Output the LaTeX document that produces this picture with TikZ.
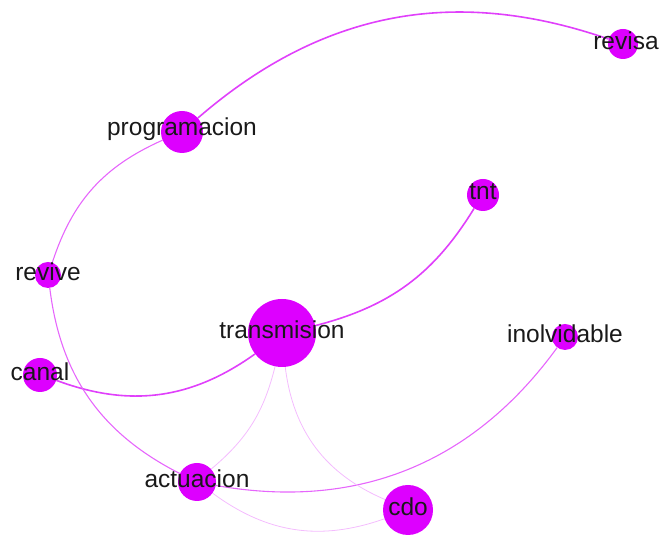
\documentclass[tikz,border=0pt]{standalone}
\usepackage{fontspec}
\setmainfont{Liberation Sans}
\usetikzlibrary{backgrounds}
\definecolor{termcol}{RGB}{221,0,255}
\definecolor{edgecol}{RGB}{224,64,251}

\begin{document}
\begin{tikzpicture}[x=1pt, y=1pt,
        every label/.style={font=\fontsize{24.5}{28}\selectfont, text=black!90, inner sep=0pt, yshift=3pt}]
      \tikzstyle{term} = [circle, fill=termcol, inner sep=0pt]
      \tikzstyle{heavy} = [draw=edgecol, line width=1.6pt]
      \tikzstyle{medium} = [draw=edgecol!80, line width=1.1pt]
      \tikzstyle{faint} = [draw=edgecol!35, line width=0.8pt]
      \useasboundingbox (0,0) rectangle (662,537);
      \node (revisa) [term, minimum size=30pt, label={[xshift=3pt]center:revisa}] at (623,493) {};
      \node (programacion) [term, minimum size=42pt, label=center:programacion] at (182,405) {};
      \node (tnt) [term, minimum size=32pt, label=center:tnt] at (483,342) {};
      \node (revive) [term, minimum size=26pt, label=center:revive] at (48,262) {};
      \node (transmision) [term, minimum size=68pt, label=center:transmision] at (282,204) {};
      \node (inolvidable) [term, minimum size=26pt, label=center:inolvidable] at (565,200) {};
      \node (canal) [term, minimum size=34pt, label=center:canal] at (40,162) {};
      \node (actuacion) [term, minimum size=38pt, label=center:actuacion] at (197,55) {};
      \node (cdo) [term, minimum size=50pt, label=center:cdo] at (408,27) {};
      \begin{scope}[on background layer]
        \draw[heavy] (programacion) to [bend left=30] (revisa);
        \draw[medium] (programacion) to [bend right=24] (revive);
        \draw[heavy] (tnt) to [bend left=22] (transmision);
        \draw[heavy] (transmision) to [bend left=28] (canal);
        \draw[medium] (revive) to [bend right=28] (actuacion);
        \draw[medium] (actuacion) to [bend right=32] (inolvidable);
        \draw[faint] (transmision) to [bend left=18] (actuacion);
        \draw[faint] (transmision) to [bend right=30] (cdo);
        \draw[faint] (actuacion) to [bend right=28] (cdo);
      \end{scope}
\end{tikzpicture}
\end{document}
